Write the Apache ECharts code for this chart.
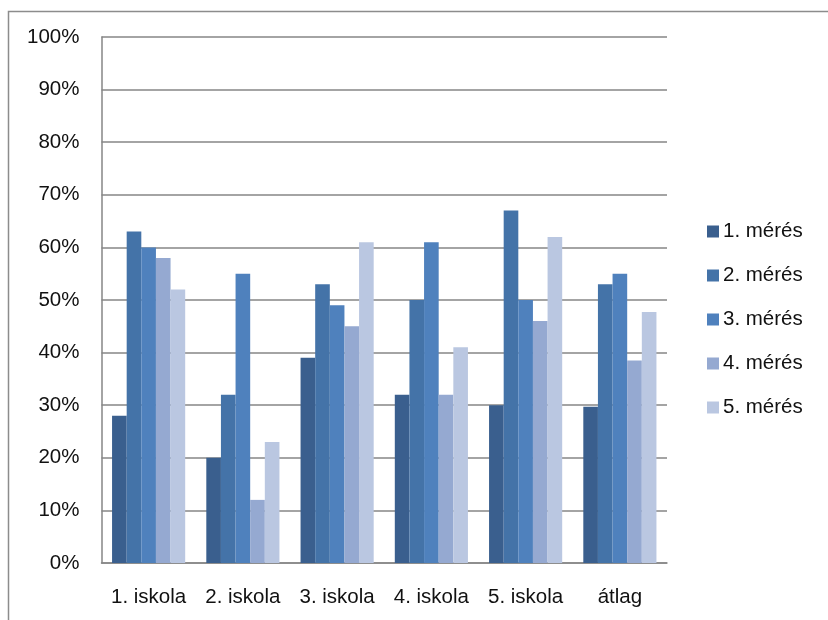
<!DOCTYPE html>
<html><head><meta charset="utf-8">
<script src="https://cdn.jsdelivr.net/npm/echarts@6/dist/echarts.min.js"></script>
<style>html,body{margin:0;padding:0;background:#fff}#c{width:828px;height:620px}</style>
</head><body><div id="c"></div>
<script>
const categories = ['1. iskola','2. iskola','3. iskola','4. iskola','5. iskola','átlag'];
const seriesNames = ['1. mérés','2. mérés','3. mérés','4. mérés','5. mérés'];
const meres1 = [28, 20, 39, 32, 30, 29.7];
const meres2 = [63, 32, 53, 50, 67, 53];
const meres3 = [60, 55, 49, 61, 50, 55];
const meres4 = [58, 12, 45, 32, 46, 38.5];
const meres5 = [52, 23, 61, 41, 62, 47.7];
const colors = ['#3A5F8E','#4473A8','#4F81BD','#95A9D1','#BAC7E1'];
const values = [meres1, meres2, meres3, meres4, meres5];
const FONT = 'Liberation Sans';
const chart = echarts.init(document.getElementById('c'));
chart.setOption({
  animation: false,
  textStyle: {fontFamily: FONT},
  graphic: [{type:'rect', shape:{x:8.5,y:11.5,width:900,height:700}, style:{fill:'none',stroke:'#8c8c8c',lineWidth:1.5}, silent:true}],
  grid: {left: 101.5, right: 161, top: 37, bottom: 57},
  legend: {
    orient: 'vertical', left: 702, top: 216, itemGap: 23,
    itemWidth: 12, itemHeight: 12, icon: 'rect',
    textStyle: {fontFamily: FONT, fontSize: 20.5, color: '#111', padding:[0,0,0,-1]},
    data: seriesNames
  },
  xAxis: {
    type: 'category', data: categories,
    axisLine: {lineStyle: {color: '#868686', width: 1.5}},
    axisTick: {show: false},
    axisLabel: {color: '#111', fontSize: 20.5, fontFamily: FONT, margin: 24, interval: 0}
  },
  yAxis: {
    type: 'value', min: 0, max: 100, interval: 10,
    axisLine: {show: true, lineStyle: {color: '#868686', width: 1.5}},
    axisTick: {show: false},
    splitLine: {lineStyle: {color: '#868686', width: 1.5}},
    axisLabel: {color: '#111', fontSize: 20.5, fontFamily: FONT, margin: 22, formatter: '{value}%'}
  },
  series: values.map((v, i) => ({
    name: seriesNames[i], type: 'bar', data: v,
    barGap: '0%', barCategoryGap: '22.4%',
    itemStyle: {color: colors[i]}
  }))
});
</script></body></html>
